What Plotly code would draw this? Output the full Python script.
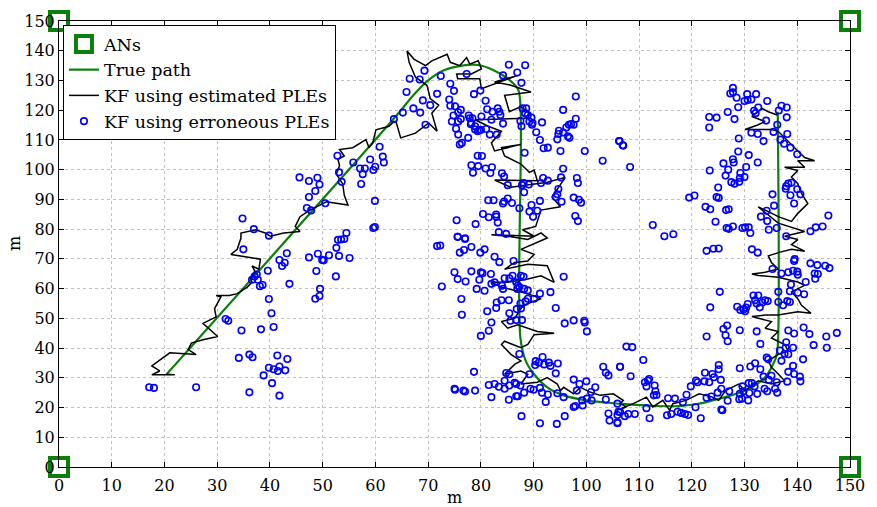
import plotly.graph_objects as go

# Anchor nodes (m)
an_x = [0, 0, 150, 150]
an_y = [0, 150, 0, 150]

# Ground-truth trajectory (m)
true_x = [20.4, 64, 67, 70, 73, 76.4, 79.5, 82.6, 85.1, 87.0, 87.5, 87.5, 88.5, 90.1, 92.6,
          95.7, 100.1, 103.5, 107, 112, 117.6, 121, 123.9, 126.5, 128.9, 131, 132.6, 134.2,
          135.1, 136.0, 136.3, 136.3]
true_y = [31.2, 118.2, 124.6, 130.0, 133.4, 135.0, 135.2, 133.3, 130.6, 127.2, 121.7, 43.4,
          35.7, 31.2, 26.8, 24.1, 22.4, 21.7, 21.2, 20.6, 20.5, 21.2, 22.4, 23.6, 24.9, 26.5,
          28.2, 30.8, 33.5, 37.0, 40.5, 119.5]

# Kalman filter track with estimated path-loss exponents, by section (x, y in m)
est_diagonal = [(20.4, 31.2), (21.95, 31.0), (17.6, 31.0), (19.1, 32.3), (17.6, 34.0), (21.0, 38.4),
                (26.0, 37.8), (24.5, 39.5), (25.1, 41.7), (27.3, 42.8), (30.1, 43.9), (28.2, 46.7),
                (27.3, 48.3), (29.8, 50.5), (29.5, 53.3), (30.7, 57.2), (29.8, 57.7), (32.3, 57.7),
                (33.8, 58.3), (35.7, 60.5), (36.6, 62.1), (36.3, 63.8), (37.3, 65.4), (36.6, 67.6),
                (37.9, 66.5), (38.2, 69.9), (36.3, 70.4), (32.6, 71.5), (33.8, 73.2), (34.5, 77.0),
                (34.5, 78.7), (37.3, 79.8), (39.1, 78.7), (40.1, 77.6), (42.6, 78.7), (45.7, 79.2),
                (44.8, 80.9), (45.7, 84.2), (47.6, 86.4), (50.7, 89.2), (54.8, 88.1), (54.1, 91.4),
                (53.8, 95.2), (52.6, 98.5), (53.2, 101.3), (52.9, 103.5), (54.1, 104.6), (53.2, 106.8),
                (55.7, 107.4), (58.2, 110.1), (58.8, 107.4), (59.5, 109.0), (60.1, 113.4), (62.6, 114.6),
                (63.5, 116.2)]
est_arc = [(63.9, 116.2), (64.8, 110.7), (67.6, 112.3), (70.1, 115.7), (71.7, 112.9), (70.7, 119.0),
           (72.0, 121.7), (70.4, 123.9), (69.8, 128.3), (67.6, 131.1), (66.4, 136.1), (66.0, 139.9),
           (67.3, 137.2), (69.5, 135.0), (70.7, 136.6), (73.6, 138.8), (74.2, 136.1), (76.0, 135.0),
           (77.3, 137.7), (77.9, 135.5), (79.5, 136.6), (80.1, 133.9), (78.2, 132.2), (75.4, 132.2),
           (75.6, 130.6), (79.8, 130.6), (80.1, 127.2), (87.0, 131.7), (82.6, 129.5), (85.7, 128.4),
           (89.5, 126.1), (84.5, 125.0), (85.4, 119.5), (87.6, 121.2), (89.2, 119.0), (88.9, 117.3),
           (78.9, 116.8), (81.4, 114.6), (83.9, 112.9), (82.0, 109.0), (82.6, 106.3), (87.6, 108.5),
           (83.9, 107.4), (84.5, 104.6), (87.6, 101.9), (89.2, 99.1), (90.1, 99.9), (90.7, 96.3),
           (82.6, 96.5), (85.7, 94.1), (92.6, 95.8), (96.0, 97.4), (93.5, 90.8), (95.1, 87.5),
           (91.4, 86.4), (90.4, 80.9), (87.9, 79.8), (90.1, 77.6)]
est_descent = [(82.0, 78.1), (85.1, 77.6), (88.9, 76.5), (91.4, 78.7), (92.6, 77.0), (87.6, 73.2),
               (90.1, 71.5), (88.9, 69.3), (86.4, 68.8), (84.5, 66.5), (88.9, 68.2), (92.6, 67.7),
               (93.9, 62.1), (91.4, 64.3), (88.9, 63.2), (85.1, 62.1), (82.0, 62.1), (83.9, 60.5),
               (86.4, 59.4), (88.9, 58.3), (91.4, 56.6), (88.9, 55.0), (87.6, 53.3), (86.4, 50.0),
               (83.9, 48.9), (85.1, 46.7), (87.0, 47.8), (88.9, 46.7), (90.7, 45.6), (93.9, 45.0),
               (90.1, 44.5), (88.9, 41.2), (87.6, 40.1), (84.5, 42.3), (83.9, 41.2), (85.7, 37.9),
               (87.6, 35.7), (86.4, 34.5), (84.5, 31.2), (87.6, 32.3), (88.9, 31.2), (87.6, 27.9),
               (90.7, 28.5), (92.6, 30.1), (94.5, 27.9), (95.1, 25.7), (95.7, 26.8), (97.6, 24.6),
               (98.9, 26.8), (100.7, 25.2), (102.6, 24.1), (105.1, 24.6), (107.0, 22.4)]
est_bottom = [(106.4, 21.3), (107.6, 20.2), (105.8, 19.1), (108.9, 21.3), (111.4, 23.5), (112.6, 20.2),
              (114.5, 22.4), (115.8, 19.1), (116.4, 21.3), (118.9, 22.4), (121.4, 24.6), (123.9, 23.5),
              (125.1, 22.4), (126.4, 25.7), (127.6, 26.8), (128.9, 27.9), (130.1, 25.7), (132.6, 29.0),
              (135.1, 27.9), (137.6, 29.0), (136.4, 31.3), (135.1, 33.5), (134.5, 35.7), (136.4, 37.9),
              (138.3, 39.0), (137.6, 41.2), (135.1, 43.4), (136.4, 45.6), (133.9, 46.7), (135.1, 48.9),
              (131.4, 50.6), (133.9, 51.1), (136.4, 51.1), (140.1, 52.2), (142.6, 51.7), (140.8, 54.4),
              (140.1, 56.6), (138.9, 58.9), (141.4, 61.1), (140.1, 62.2), (136.4, 63.8), (132.6, 64.4),
              (131.4, 64.9), (133.9, 65.5), (136.4, 66.6), (135.1, 68.8), (134.5, 71.0), (136.4, 72.1),
              (138.9, 73.2)]
est_ascent = [(141.4, 72.6), (138.9, 74.8), (140.1, 76.5), (137.6, 77.6), (141.4, 79.2), (136.4, 82.0),
              (132.6, 87.5), (134.5, 85.9), (136.4, 84.2), (138.9, 82.6), (140.1, 85.3), (142.0, 88.6),
              (140.8, 92.0), (140.1, 95.3), (138.9, 97.5), (140.1, 99.7), (137.6, 100.8), (141.4, 100.8),
              (140.1, 103.0), (143.3, 103.0), (141.4, 104.1), (140.1, 106.3), (138.3, 109.6), (136.4, 112.9),
              (135.1, 113.5), (130.1, 113.5), (132.6, 115.1), (133.9, 116.2), (131.4, 117.9), (133.3, 120.6),
              (134.5, 119.5), (136.2, 118.4)]

# Kalman filter estimates with erroneous path-loss exponents, by region (x, y in m)
err_diagonal = [(17.1, 26.8), (18.0, 26.6), (26.0, 26.8), (36.1, 25.1), (41.8, 24.0), (40.4, 28.2),
                (38.8, 30.8), (39.8, 33.4), (40.7, 32.9), (41.5, 32.3), (41.8, 33.8), (42.9, 32.5),
                (43.3, 36.3), (41.4, 37.5), (34.1, 36.7), (36.1, 37.8), (36.7, 36.9), (34.6, 45.9),
                (38.3, 46.3), (40.7, 47.1), (40.3, 51.7), (39.8, 56.5), (31.6, 49.8), (32.1, 49.2),
                (43.7, 61.6), (38.1, 60.8), (38.6, 61.2), (36.6, 63.0), (37.1, 64.1), (37.5, 64.8),
                (37.7, 63.0), (39.6, 66.0), (42.3, 67.6), (41.8, 69.6), (42.8, 68.7), (43.2, 71.9),
                (34.96, 73.2), (36.95, 80.0), (39.8, 77.8), (34.8, 83.6), (47.4, 70.5), (48.8, 65.9),
                (49.5, 59.9), (49.4, 57.5), (48.6, 56.6), (49.1, 71.7), (49.9, 69.6), (50.2, 69.5),
                (51.2, 71.2), (52.6, 73.7), (52.9, 76.4), (53.5, 76.5), (54.1, 76.7), (54.5, 78.7),
                (53.1, 71.0), (55.1, 70.3), (52.5, 64.1), (59.9, 80.7), (59.6, 80.4), (59.9, 89.5),
                (45.6, 97.4), (47.4, 96.2), (49.0, 97.3), (49.4, 95.0), (48.6, 92.8), (47.4, 90.8),
                (47.0, 87.1), (47.8, 86.3), (50.5, 88.7), (52.8, 104.7), (53.1, 99.1), (53.6, 95.9),
                (55.8, 102.4), (57.1, 100.4), (58.0, 100.4), (57.6, 98.5), (57.3, 95.2), (59.0, 103.4),
                (59.6, 99.9), (59.96, 101.0), (61.4, 104.4), (61.6, 102.4), (60.8, 107.7), (63.5, 117.0)]
err_upper_mid = [(85.3, 135.3), (88.4, 135.1), (86.9, 132.7), (84.2, 131.7), (87.7, 129.2), (77.3, 132.2),
                 (72.4, 131.5), (69.3, 133.3), (66.5, 130.6), (68.4, 130.3), (65.9, 126.1), (71.7, 125.5),
                 (74.2, 128.9), (74.9, 126.5), (78.7, 125.4), (79.9, 126.6), (69.0, 123.3), (70.4, 121.7),
                 (67.2, 120.6), (65.2, 119.2), (68.5, 119.2), (69.5, 115.1), (74.0, 123.6),
                 (74.2, 121.5), (75.1, 121.3), (75.7, 119.3), (76.2, 120.1), (74.8, 118.2), (74.5, 116.2),
                 (75.7, 116.2), (76.2, 117.0), (75.3, 113.8), (75.7, 111.8), (76.0, 108.5), (76.4, 109.0),
                 (77.6, 110.7), (77.9, 117.3), (77.7, 118.2), (78.4, 117.3), (78.1, 115.3), (78.9, 114.6),
                 (78.9, 113.5), (79.4, 112.9), (79.7, 113.2), (80.0, 113.4), (78.2, 115.7), (80.1, 117.9),
                 (81.2, 120.3), (82.2, 119.5), (82.0, 116.8), (83.2, 120.6), (83.5, 119.5), (83.7, 118.4),
                 (84.2, 115.5), (81.0, 113.7), (81.7, 111.8), (83.0, 111.8), (80.9, 123.2), (80.2, 104.6),
                 (79.4, 104.7), (78.2, 101.5), (79.5, 101.2), (78.5, 99.0), (80.9, 100.4), (82.1, 100.8),
                 (81.8, 98.9), (84.0, 98.8), (84.4, 97.7), (85.1, 94.8), (81.4, 89.7), (82.4, 89.7),
                 (84.4, 89.3), (84.2, 88.6), (85.1, 90.3), (85.9, 88.8), (82.9, 84.9), (80.4, 85.1),
                 (81.5, 84.0), (82.9, 84.2), (83.2, 82.2), (75.4, 83.0), (79.0, 81.7), (75.6, 77.4),
                 (77.0, 76.9), (84.8, 78.4), (83.4, 79.0), (87.3, 87.0), (88.1, 95.5), (87.8, 94.8),
                 (89.1, 95.0), (88.2, 92.4), (89.6, 88.1), (89.2, 85.9), (89.9, 84.2), (90.7, 86.2),
                 (91.2, 89.5), (91.4, 95.5), (92.7, 96.3), (91.8, 97.2), (94.7, 93.5), (94.5, 91.7),
                 (94.2, 90.8), (95.2, 97.4), (95.6, 100.3), (98.2, 97.2), (98.4, 95.5), (97.6, 90.6),
                 (98.6, 89.9), (99.0, 88.9), (95.3, 89.2), (97.9, 84.4), (98.4, 82.7), (87.9, 120.6),
                 (88.6, 120.6), (88.9, 118.4), (89.6, 117.5), (87.7, 114.6), (89.7, 115.1), (91.6, 115.9),
                 (90.5, 112.6), (91.2, 110.0), (91.9, 107.2), (92.7, 107.4), (95.1, 106.3), (94.5, 110.2),
                 (94.7, 112.0), (94.8, 113.1), (95.6, 112.5), (96.5, 111.2), (96.8, 110.7), (96.2, 114.2),
                 (96.7, 115.1), (97.1, 115.3), (97.6, 115.1), (98.0, 117.1), (95.6, 120.1), (98.0, 124.6),
                 (99.7, 106.3), (103.1, 103.0), (106.2, 109.6), (106.9, 108.2), (88.3, 105.7), (87.5, 116.4),
                 (89.2, 116.2), (89.8, 115.7), (88.4, 119.0)]
err_lower_mid = [(71.7, 74.3), (72.3, 74.5), (75.6, 77.4), (77.0, 76.7), (76.0, 72.1), (76.8, 73.0),
                 (78.2, 74.0), (79.9, 72.1), (80.7, 73.2), (82.6, 70.7), (83.5, 68.9), (86.2, 69.3),
                 (75.0, 65.5), (75.6, 63.2), (77.1, 62.4), (78.2, 65.8), (79.7, 63.0), (80.0, 65.5),
                 (80.3, 65.2), (81.9, 64.9), (79.2, 59.9), (80.7, 59.3), (72.6, 60.7), (76.3, 56.5),
                 (76.4, 51.2), (81.2, 52.4), (82.9, 53.5), (83.0, 55.3), (83.9, 56.1), (85.3, 56.1),
                 (82.0, 61.6), (82.6, 62.1), (84.2, 59.9), (84.5, 63.5), (85.4, 63.5), (86.0, 64.3),
                 (86.7, 62.1), (87.0, 61.0), (87.3, 60.5), (86.9, 59.9), (88.2, 59.9), (88.9, 59.4),
                 (87.6, 64.3), (88.1, 64.0), (88.5, 55.7), (87.5, 55.0), (87.6, 53.3), (86.8, 53.1),
                 (85.4, 51.7), (85.6, 49.2), (86.7, 49.4), (87.8, 49.4), (88.9, 56.6), (90.1, 56.6),
                 (91.2, 58.3), (93.2, 58.8), (94.2, 53.5), (95.7, 64.0), (95.9, 48.3), (97.6, 49.3),
                 (99.6, 49.2), (99.7, 48.6), (100.1, 45.6), (82.0, 48.6), (81.5, 45.8), (80.0, 44.1),
                 (87.3, 38.0), (78.7, 32.0), (75.0, 26.3), (75.1, 26.0), (76.7, 25.7), (77.0, 25.4),
                 (78.9, 25.7), (81.5, 27.6), (82.0, 23.5), (83.4, 27.0), (84.5, 26.3), (85.4, 27.4),
                 (86.4, 28.3), (86.7, 27.9), (87.5, 27.4), (85.3, 22.6), (86.7, 23.8), (87.0, 23.8),
                 (88.2, 25.0), (84.8, 31.6), (85.4, 31.2), (89.2, 31.2), (90.4, 35.6), (91.7, 37.0),
                 (91.0, 35.1), (92.0, 34.5), (92.9, 35.1), (93.2, 34.0), (94.6, 34.8), (94.2, 31.5),
                 (90.3, 34.3), (89.4, 26.3), (90.0, 26.0), (91.2, 26.6), (91.6, 25.0), (92.7, 24.4),
                 (92.3, 21.9), (94.5, 24.8), (95.7, 23.5), (97.6, 29.4), (98.7, 27.9), (100.0, 28.8),
                 (98.2, 25.7), (99.2, 22.4), (100.1, 23.0), (101.0, 22.4), (97.6, 20.2), (97.9, 20.5),
                 (99.3, 20.7), (100.9, 25.2), (101.7, 26.8), (103.2, 33.7), (103.7, 31.7), (104.2, 30.8),
                 (106.4, 33.7), (103.7, 22.7), (105.9, 21.3), (106.4, 18.5), (104.2, 18.0), (104.4, 15.6),
                 (105.9, 14.7), (87.7, 17.1), (91.2, 14.7), (94.4, 14.5), (95.9, 17.1), (84.5, 29.0),
                 (82.6, 27.9), (84.0, 61.0)]
err_upper_right = [(127.8, 127.5), (127.3, 125.6), (127.8, 126.0), (128.5, 124.2), (130.5, 125.4),
                   (132.2, 125.4), (130.0, 123.1), (130.6, 123.4), (131.3, 123.6), (134.3, 123.1),
                   (132.6, 120.9), (131.8, 119.8), (132.1, 119.0), (128.8, 121.0), (126.8, 119.4),
                   (137.0, 121.5), (138.0, 120.9), (136.5, 119.9), (138.0, 117.6), (123.3, 117.7),
                   (124.7, 117.5), (128.1, 117.0), (123.3, 114.2), (134.1, 116.5), (136.2, 115.1),
                   (135.5, 112.7), (131.3, 112.4), (132.5, 112.0), (128.9, 110.5), (133.6, 109.6),
                   (136.8, 110.1), (137.5, 108.7), (138.1, 112.0), (138.7, 107.4), (140.0, 105.2),
                   (106.3, 109.6), (107.0, 108.1), (108.3, 100.9), (128.8, 106.1), (130.8, 104.9),
                   (132.5, 102.4), (126.0, 102.1), (127.8, 103.5), (127.95, 102.4), (126.9, 100.0),
                   (123.4, 99.7), (130.3, 100.9), (126.4, 98.0), (129.2, 98.9), (130.0, 97.5),
                   (129.1, 97.2), (127.5, 95.8), (128.1, 95.3), (129.0, 95.9), (125.0, 94.0),
                   (119.5, 90.6), (120.5, 91.3), (124.7, 90.8), (125.1, 90.5), (122.6, 87.5),
                   (123.5, 86.7), (126.5, 86.4), (127.0, 86.7), (124.5, 82.5), (126.6, 80.4),
                   (127.0, 80.1), (127.8, 80.9), (129.6, 80.4), (130.1, 80.6), (130.8, 80.6),
                   (131.1, 78.7), (134.2, 86.2), (135.6, 87.9), (133.1, 84.2), (134.3, 82.7),
                   (134.6, 79.8), (136.1, 80.4), (135.3, 91.7), (138.3, 95.3), (138.9, 95.6),
                   (137.9, 94.4), (137.8, 93.6), (138.7, 91.4), (140.0, 93.4), (140.6, 91.7),
                   (139.4, 88.6), (145.9, 84.6), (144.8, 80.9), (143.5, 80.6), (142.5, 79.3),
                   (137.9, 77.6), (112.6, 81.4), (114.8, 77.6), (116.5, 78.3), (122.8, 72.7),
                   (124.1, 73.4), (125.1, 73.5), (131.4, 73.2), (132.5, 72.1), (139.5, 69.9)]
err_lower_right = [(139.4, 69.3), (142.5, 68.5), (143.8, 67.9), (145.3, 67.7), (146.1, 66.9),
                   (135.3, 66.6), (137.0, 65.1), (138.3, 65.5), (139.2, 66.0), (140.0, 65.7),
                   (140.1, 64.7), (143.3, 65.1), (143.9, 64.9), (143.4, 63.3), (141.6, 62.2),
                   (138.8, 61.4), (136.4, 58.9), (138.6, 59.1), (140.1, 58.6), (141.3, 58.1),
                   (125.3, 58.9), (131.7, 57.7), (132.6, 57.7), (132.0, 56.1), (133.9, 56.1),
                   (134.4, 55.8), (132.3, 55.0), (133.4, 55.3), (132.9, 53.7), (128.6, 53.9),
                   (129.2, 52.8), (129.8, 53.0), (130.3, 53.6), (130.6, 54.8), (130.1, 52.4),
                   (123.5, 53.7), (136.4, 55.5), (137.3, 54.4), (138.1, 55.8), (138.6, 55.5),
                   (141.2, 46.9), (142.3, 44.7), (145.5, 43.9), (147.5, 45.1), (143.1, 41.0),
                   (145.6, 40.1), (138.3, 45.9), (139.4, 44.9), (122.8, 43.9), (126.0, 46.4),
                   (126.4, 44.3), (126.7, 47.6), (126.8, 42.3), (129.1, 46.0), (132.3, 45.6),
                   (133.0, 41.4), (137.9, 41.96), (137.8, 40.1), (136.7, 39.2), (139.2, 40.1),
                   (137.6, 38.1), (134.2, 36.8), (134.5, 36.2), (137.0, 35.7), (138.3, 37.9),
                   (141.1, 36.2), (139.2, 34.0), (138.3, 32.0), (139.4, 31.3), (140.5, 30.4),
                   (140.6, 28.8), (138.1, 28.7), (131.1, 33.8), (132.0, 34.9), (133.0, 32.9),
                   (129.1, 33.2), (107.6, 40.5), (108.7, 40.3), (106.4, 33.7), (108.4, 30.5),
                   (110.8, 36.0), (122.5, 31.7), (123.9, 31.3), (125.1, 34.3), (125.1, 32.9),
                   (124.2, 30.2), (125.5, 29.3), (123.3, 28.5), (122.4, 28.8), (119.8, 27.1),
                   (120.8, 29.05), (121.1, 28.5), (119.0, 24.3), (118.3, 21.8), (116.8, 23.0),
                   (115.5, 23.1), (111.9, 29.6), (111.7, 29.05), (111.1, 28.5), (111.4, 27.1),
                   (112.95, 27.4), (113.1, 25.5), (112.8, 24.1), (113.3, 24.2), (122.8, 23.3),
                   (123.7, 23.7), (124.9, 25.0), (125.6, 26.3), (127.1, 25.5), (129.1, 24.6),
                   (129.8, 25.5), (130.9, 24.9), (129.6, 27.1), (130.8, 28.2), (131.4, 28.2),
                   (131.9, 27.1), (132.4, 24.6), (133.8, 26.3), (134.3, 25.5), (135.8, 26.3),
                   (136.2, 25.0), (136.1, 28.5), (134.6, 29.3), (135.1, 30.7), (133.6, 30.4),
                   (129.0, 22.8), (129.5, 23.0), (130.7, 22.4), (126.8, 22.3), (125.6, 19.3),
                   (125.8, 19.1), (120.7, 20.1), (117.3, 18.6), (117.95, 18.2), (118.7, 17.8),
                   (119.3, 17.5), (115.3, 17.4), (116.1, 17.8), (111.4, 19.8), (112.0, 16.4),
                   (109.2, 17.8), (107.95, 17.8), (107.3, 17.1), (106.1, 18.6), (105.9, 17.5),
                   (105.9, 15.0), (121.7, 16.4)]

est_track = est_diagonal + est_arc + est_descent + est_bottom + est_ascent
err_points = err_diagonal + err_upper_mid + err_lower_mid + err_upper_right + err_lower_right

GREEN = "#0a800a"
SERIF = "DejaVu Serif"

fig = go.Figure()
fig.add_trace(go.Scatter(
    x=an_x, y=an_y, mode="markers", name="ANs", cliponaxis=False,
    marker=dict(symbol="square-open", size=18, color=GREEN, line=dict(width=4, color=GREEN)),
))
fig.add_trace(go.Scatter(
    x=true_x, y=true_y, mode="lines", name="True path", line_shape="spline",
    line=dict(color=GREEN, width=2.2),
))
fig.add_trace(go.Scatter(
    x=[p[0] for p in est_track], y=[p[1] for p in est_track], mode="lines",
    name="KF using estimated PLEs", line=dict(color="black", width=1.5),
))
fig.add_trace(go.Scatter(
    x=[p[0] for p in err_points], y=[p[1] for p in err_points], mode="markers",
    name="KF using erroneous PLEs",
    marker=dict(symbol="circle-open", size=6.5, color="#0000ff", line=dict(width=1.6, color="#0000ff")),
))

axis_common = dict(
    range=[0, 150], dtick=10, tick0=0, showgrid=True, gridcolor="#c0c0c0",
    griddash="dot", gridwidth=1, zeroline=False, showline=True, linecolor="black",
    linewidth=1, mirror="allticks", ticks="inside", ticklen=5, tickcolor="black",
    tickfont=dict(family=SERIF, size=16, color="black"),
)
fig.update_xaxes(ticklabelstandoff=4, **axis_common)
fig.update_yaxes(**axis_common)

fig.update_layout(
    width=877, height=507,
    margin=dict(l=59, r=20, t=18, b=36),
    paper_bgcolor="white", plot_bgcolor="white",
    font=dict(family=SERIF, size=16, color="black"),
    showlegend=True,
    legend=dict(
        x=0.005, y=0.991, xanchor="left", yanchor="top",
        bgcolor="white", bordercolor="black", borderwidth=1,
        font=dict(family=SERIF, size=17.5), itemwidth=30, tracegroupgap=0,
    ),
    annotations=[
        dict(text="m", xref="paper", yref="paper", x=0.5, y=0, yshift=-30,
             xanchor="center", yanchor="middle", showarrow=False,
             font=dict(family=SERIF, size=16)),
        dict(text="m", xref="paper", yref="paper", x=0, xshift=-45, y=0.5,
             xanchor="center", yanchor="middle", showarrow=False, textangle=-90,
             font=dict(family=SERIF, size=16)),
    ],
)

fig.write_html("out.html")
